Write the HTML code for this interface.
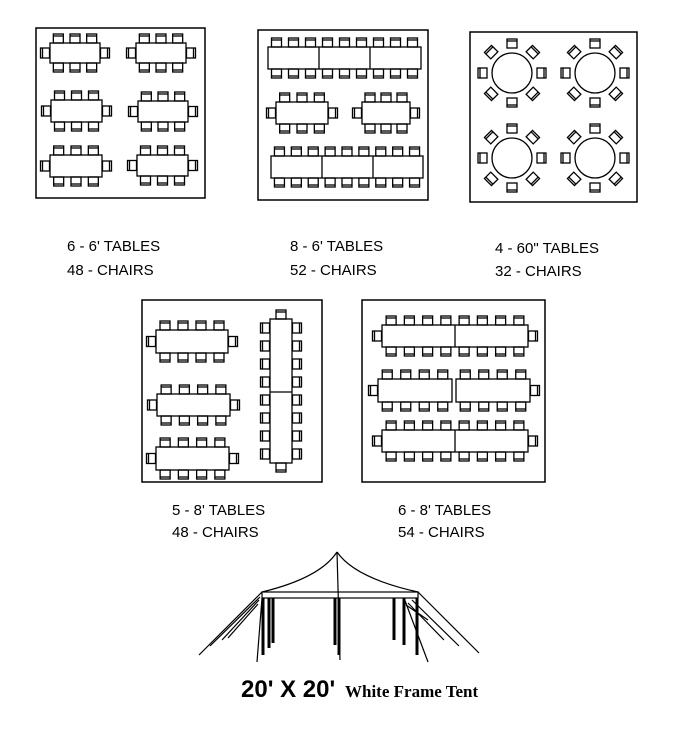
<!DOCTYPE html>
<html><head><meta charset="utf-8"><style>
html,body{margin:0;padding:0;background:#fff;}
svg{display:block;}
.l{font-family:"Liberation Sans",Arial,sans-serif;font-size:15px;fill:#000;}
</style></head><body>
<svg id="s" width="679" height="750" viewBox="0 0 679 750" xmlns="http://www.w3.org/2000/svg">
<g id="g" fill="none" stroke="#000" stroke-width="1.3"></g>
<text class="l" x="67" y="251">6 - 6' TABLES</text>
<text class="l" x="67" y="275">48 - CHAIRS</text>
<text class="l" x="290" y="251">8 - 6' TABLES</text>
<text class="l" x="290" y="275">52 - CHAIRS</text>
<text class="l" x="495" y="253">4 - 60" TABLES</text>
<text class="l" x="495" y="276">32 - CHAIRS</text>
<text class="l" x="172" y="515">5 - 8' TABLES</text>
<text class="l" x="172" y="537">48 - CHAIRS</text>
<text class="l" x="398" y="515">6 - 8' TABLES</text>
<text class="l" x="398" y="537">54 - CHAIRS</text>
<text x="241" y="697" style="font-family:'Liberation Sans',Arial,sans-serif;font-weight:bold;font-size:24px">20' X 20'</text>
<text x="345" y="697" style="font-family:'Liberation Serif',serif;font-weight:bold;font-size:17px">White Frame Tent</text>
<g fill="none" stroke="#000" stroke-width="1.2">
<path d="M337 552 Q320 578 262 592"/><path d="M337 552 Q355 578 418 592"/>
<rect x="262" y="592" width="156" height="6"/>
<line x1="337" y1="552" x2="340" y2="660"/>
<line x1="262" y1="592" x2="199" y2="655"/><line x1="260" y1="597" x2="210" y2="646"/><line x1="259" y1="600" x2="222" y2="640"/><line x1="258" y1="604" x2="228" y2="638"/>
<line x1="418" y1="592" x2="479" y2="653"/><line x1="412" y1="600" x2="459" y2="646"/><line x1="408" y1="603" x2="444" y2="640"/><line x1="406" y1="605" x2="428" y2="620"/>
<line x1="404" y1="598" x2="428" y2="662"/><line x1="262" y1="598" x2="257" y2="662"/>
</g>
<g stroke="#000" stroke-width="3">
<line x1="263" y1="598" x2="263" y2="655"/><line x1="269" y1="598" x2="269" y2="648"/><line x1="273" y1="598" x2="273" y2="643"/>
<line x1="335" y1="598" x2="335" y2="645"/><line x1="339" y1="598" x2="339" y2="655"/>
<line x1="417" y1="598" x2="417" y2="655"/><line x1="404" y1="598" x2="404" y2="645"/><line x1="394" y1="598" x2="394" y2="640"/>
</g>
</svg>
<script>
var g=document.getElementById('g'),NS='http://www.w3.org/2000/svg';
function el(t,a){var e=document.createElementNS(NS,t);for(var k in a)e.setAttribute(k,a[k]);g.appendChild(e);return e;}
function R(x,y,w,h,sw){el('rect',{x:x,y:y,width:w,height:h,'stroke-width':sw||1.3});}
function L(a,b,c,d){el('line',{x1:a,y1:b,x2:c,y2:d});}
// chair: dir t,b,l,r ; cx,cy = center of the chair
function chair(cx,cy,d){
 var w=10,h=9;
 if(d=='t'||d=='b'){R(cx-w/2,cy-h/2,w,h);var yy=d=='t'?cy-h/2+2:cy+h/2-2;L(cx-w/2,yy,cx+w/2,yy);}
 else{R(cx-h/2,cy-w/2,h,w);var xx=d=='l'?cx-h/2+2:cx+h/2-2;L(xx,cy-w/2,xx,cy+w/2);}
}
function table(x,y,w,h,n,ends,splits){
 R(x,y,w,h);
 (splits||[]).forEach(function(s){L(s,y,s,y+h);});
 for(var i=0;i<n;i++){var cx=x+w*(i+0.5)/n;chair(cx,y-4.5,'t');chair(cx,y+h+4.5,'b');}
 if(ends){chair(x-5,y+h/2,'l');chair(x+w+5,y+h/2,'r');}
}
function border(x,y,w,h){R(x,y,w,h,1.5);}
// panel 1
border(36,28,169,170);
table(50,43,50,20,3,1);table(136,43,50,20,3,1);
table(51,100,51,22,3,1);table(138,101,50,21,3,1);
table(50,155,52,22,3,1);table(137,155,51,21,3,1);
// panel 2
border(258,30,170,170);
table(268,47,153,22,9,0,[319,370]);
table(276,102,52,22,3,1);table(362,102,48,22,3,1);
table(271,156,152,22,9,0,[322,373]);
// panel 3
border(470,32,167,170);
[[512,73],[595,73],[512,158],[595,158]].forEach(function(c){
 el('circle',{cx:c[0],cy:c[1],r:20});
 for(var k=0;k<8;k++){var a=k*Math.PI/4,rr=29,px=c[0]+rr*Math.cos(a),py=c[1]+rr*Math.sin(a);
  var gg=el('g',{transform:'translate('+px+','+py+') rotate('+(a*180/Math.PI+90)+')'});
  var r1=document.createElementNS(NS,'rect');r1.setAttribute('x',-5);r1.setAttribute('y',-5);r1.setAttribute('width',10);r1.setAttribute('height',9);gg.appendChild(r1);
  var l1=document.createElementNS(NS,'line');l1.setAttribute('x1',-5);l1.setAttribute('y1',-3);l1.setAttribute('x2',5);l1.setAttribute('y2',-3);gg.appendChild(l1);
 }
});
// panel 4
border(142,300,180,182);
table(156,330,72,23,4,1);table(157,394,73,22,4,1);table(156,447,73,23,4,1);
R(270,319,22,144);L(270,392,292,392);
for(var i=0;i<8;i++){var cy=319+144*(i+0.5)/8;chair(265,cy,'l');chair(297,cy,'r');}
chair(281,314.5,'t');chair(281,467.5,'b');
// panel 5
border(362,300,183,182);
table(382,325,146,22,8,1,[455]);
table(378,379,74,23,4,0);table(456,379,74,23,4,0);
chair(373,390.5,'l');chair(535,390.5,'r');
table(382,430,146,22,8,1,[455]);
</script>
</body></html>
